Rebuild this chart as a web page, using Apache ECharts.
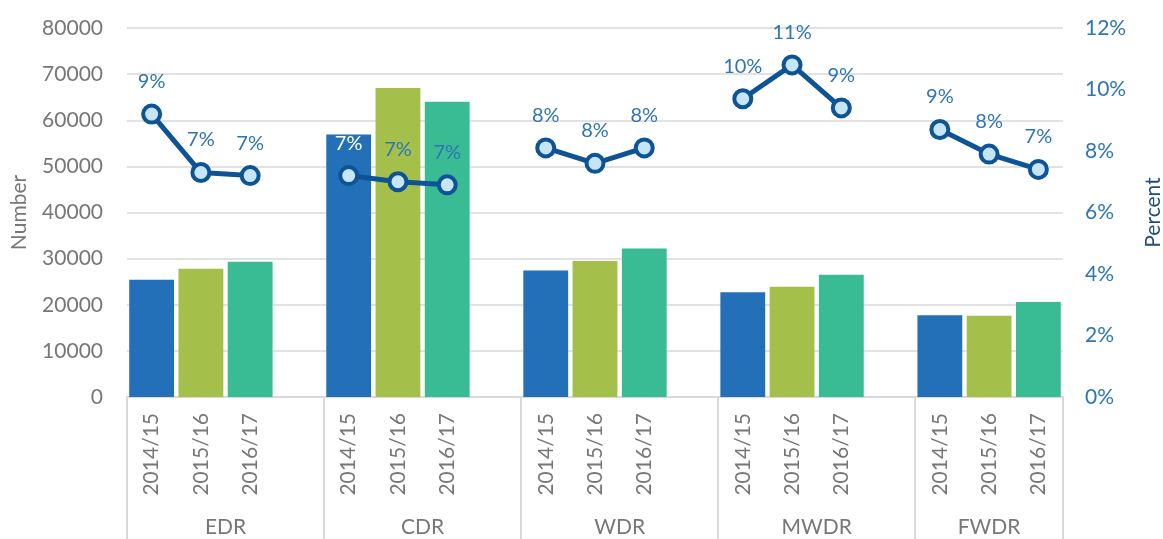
<!DOCTYPE html>
<html>
<head>
<meta charset="utf-8">
<script src="https://cdn.jsdelivr.net/npm/echarts@6/dist/echarts.min.js"></script>
<style>
html,body{margin:0;padding:0;background:#fff;}
#chart{width:1163px;height:539px;}
</style>
</head>
<body>
<div id="chart"></div>
<script>
var regions = ['EDR', 'CDR', 'WDR', 'MWDR', 'FWDR'];
var years = ['2014/15', '2015/16', '2016/17'];
// numbers per year, one value per region
var count2014 = [25400, 56900, 27400, 22700, 17700];
var count2015 = [27800, 67000, 29500, 23900, 17600];
var count2016 = [29300, 64000, 32200, 26500, 20600];
// percent per year, one value per region
var pct2014 = [9.2, 7.2, 8.1, 9.7, 8.7];
var pct2015 = [7.3, 7.0, 7.6, 10.8, 7.9];
var pct2016 = [7.2, 6.9, 8.1, 9.4, 7.4];
var leftTicks = [0, 80000, 10000];
var rightTicks = [0, 12, 2];

var yearColors = ['#2470b8', '#a5c04a', '#39bc94'];
var gray = '#777777';
var font = 'Lato';
var fs = 21;

var counts = [count2014, count2015, count2016];
var pcts = [pct2014, pct2015, pct2016];

// slots: 3 years per region, blank slot between regions
var slotLabels = [];
var barData = [];
var lineData = [];
var groupCenters = {};
var groupEdges = {0: true};
for (var r = 0; r < regions.length; r++) {
	var startHalf = slotLabels.length * 2;
	for (var j = 0; j < years.length; j++) {
		slotLabels.push(years[j]);
		barData.push({value: counts[j][r], itemStyle: {color: yearColors[j]}});
		var pt = {value: pcts[j][r]};
		if (r == 1 && j == 0) {
			pt.label = {color: '#ffffff'};
		}
		lineData.push(pt);
	}
	if (r < regions.length - 1) {
		slotLabels.push('');
		barData.push(null);
		lineData.push(null);
	}
	var endHalf = slotLabels.length * 2;
	groupCenters[(startHalf + endHalf) / 2] = regions[r];
	groupEdges[endHalf] = true;
}
// group axis runs on half slots so every group centre lands on a point
var groupData = [];
for (var h = 0; h <= slotLabels.length * 2; h++) {
	groupData.push(groupCenters[h] || '');
}

var chart = echarts.init(document.getElementById('chart'));
chart.setOption({
	animation: false,
	textStyle: {fontFamily: font},
	grid: {left: 127, right: 100, top: 28, bottom: 142, outerBoundsMode: 'none', containLabel: false},
	xAxis: [{
		type: 'category',
		data: slotLabels,
		position: 'bottom',
		axisLine: {show: false},
		axisTick: {show: false},
		axisLabel: {rotate: 90, interval: 0, margin: 16, fontSize: fs, color: gray, fontFamily: font}
	}, {
		type: 'category',
		data: groupData,
		boundaryGap: false,
		position: 'bottom',
		axisLine: {show: true, lineStyle: {color: '#d9d9d9', width: 2}},
		axisTick: {
			show: true,
			length: 142,
			interval: function (idx) { return !!groupEdges[idx]; },
			lineStyle: {color: '#d9d9d9', width: 2}
		},
		axisLabel: {interval: 0, margin: 120, fontSize: fs, color: gray, fontFamily: font}
	}],
	yAxis: [{
		type: 'value',
		min: leftTicks[0], max: leftTicks[1], interval: leftTicks[2],
		name: 'Number',
		nameLocation: 'middle',
		nameGap: 97,
		nameTextStyle: {fontSize: fs, color: gray, fontFamily: font},
		axisLabel: {margin: 24, fontSize: fs, color: gray, fontFamily: font, formatter: function (v) { return String(v); }},
		axisLine: {show: false},
		axisTick: {show: false},
		splitLine: {lineStyle: {color: '#d9d9d9', width: 1.5}}
	}, {
		type: 'value',
		min: rightTicks[0], max: rightTicks[1], interval: rightTicks[2],
		name: 'Percent',
		nameLocation: 'middle',
		nameGap: 80,
		nameTextStyle: {fontSize: fs, color: '#1f4e79', fontFamily: font},
		axisLabel: {margin: 22, fontSize: fs, color: '#2e75b6', fontFamily: font, formatter: '{value}%'},
		axisLine: {show: false},
		axisTick: {show: false},
		splitLine: {show: false}
	}],
	series: [{
		type: 'bar',
		xAxisIndex: 0,
		yAxisIndex: 0,
		data: barData,
		barCategoryGap: '9%',
		emphasis: {disabled: true}
	}, {
		type: 'line',
		xAxisIndex: 0,
		yAxisIndex: 1,
		data: lineData,
		connectNulls: false,
		symbol: 'circle',
		symbolSize: 17,
		lineStyle: {color: '#0d5395', width: 5},
		itemStyle: {color: '#c6e5f7', borderColor: '#0d5395', borderWidth: 4},
		label: {
			show: true,
			position: 'top',
			distance: 12,
			fontSize: 20,
			color: '#2e75b6',
			fontFamily: font,
			formatter: function (p) { return Math.round(p.value) + '%'; }
		},
		emphasis: {disabled: true},
		z: 5
	}]
});
</script>
</body>
</html>
